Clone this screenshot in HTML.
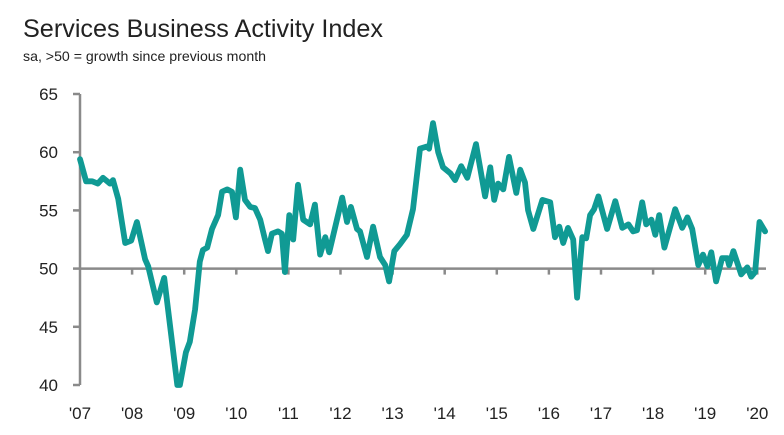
<!DOCTYPE html>
<html><head><meta charset="utf-8"><style>
html,body{margin:0;padding:0;background:#fff;}
svg{display:block;font-family:"Liberation Sans",sans-serif;}
</style></head><body>
<svg id="chart" width="784" height="435" viewBox="0 0 784 435" xmlns="http://www.w3.org/2000/svg">
<text x="23" y="37" font-size="25" fill="#222" textLength="360" lengthAdjust="spacingAndGlyphs">Services Business Activity Index</text>
<text x="23" y="61" font-size="14" fill="#222" textLength="243" lengthAdjust="spacingAndGlyphs">sa, &gt;50 = growth since previous month</text>
<g id="axes"></g>
<g id="series"></g>
</svg>
<script>
const yTicks = [40, 45, 50, 55, 60, 65];
const yearLabels = ["'07","'08","'09","'10","'11","'12","'13","'14","'15","'16","'17","'18","'19","'20"];
const months = [0,1.4,2.8,4.1,5.3,6.9,7.6,8.8,10.4,11.8,13.1,15,15.7,17.7,19.4,22.4,23,24.4,25.3,26.5,27.6,28.3,29.3,30.4,31.8,32.7,33.9,35,35.9,36.9,38,39.2,40.3,41.5,42.6,43.3,44.2,45.6,46.5,47.2,48.2,49.1,50.2,51.4,53,54.1,55.3,56.5,57.4,60.4,61.5,62.4,63.8,64.5,66.1,67.5,69.1,70.3,71.2,72.4,73.7,75.3,76.7,78.3,80,80.4,81.3,82.5,83.6,85.3,86.4,87.8,89.2,91.2,93.3,94.5,95.4,96.3,97.5,98.8,100.5,101.4,102.5,103.2,104.4,106.5,108.3,109.4,110.4,111.3,112.4,113.6,114.5,115.7,116.6,117.5,118.4,119.4,121.4,123.3,124.9,126.3,127.4,128.3,129.5,130.4,131.6,132.5,133.4,134.6,137.1,138.7,139.9,141,142.4,143.5,144.5,145.4,146.5,147.9,149.1,149.5,150.5,152.3,153.7,154.6,155.5,156.5,157.8];
const values = [59.4,57.5,57.5,57.3,57.8,57.3,57.6,56.0,52.2,52.4,54.0,50.8,50.2,47.1,49.2,40.0,40.0,42.8,43.7,46.5,50.6,51.6,51.8,53.4,54.6,56.6,56.8,56.6,54.4,58.5,55.9,55.3,55.2,54.2,52.5,51.5,53.0,53.2,53.0,49.7,54.6,52.5,57.2,54.2,53.8,55.5,51.2,52.7,51.4,56.1,54.0,55.3,53.4,53.2,51.0,53.6,51.0,50.3,48.9,51.5,52.1,52.9,55.1,60.3,60.5,60.3,62.5,60.0,58.7,58.2,57.6,58.8,57.8,60.7,56.2,58.7,55.9,57.3,56.8,59.6,56.5,58.5,57.4,55.0,53.4,55.9,55.7,52.7,53.6,52.2,53.5,52.5,47.5,52.7,52.6,54.6,55.1,56.2,53.4,55.8,53.5,53.8,53.2,53.3,55.7,53.8,54.2,52.9,54.6,51.8,55.1,53.5,54.4,53.4,50.3,51.2,50.2,51.4,48.9,50.9,50.9,50.3,51.5,49.5,50.1,49.3,49.7,54.0,53.2];

const NS = "http://www.w3.org/2000/svg";
const X0 = 80, MONTH_PX = 52.1/12;
const Y_TOP = 94, Y_BOT = 385, VMIN = 40, VMAX = 65;
function xScale(m){ return X0 + m*MONTH_PX; }
function yScale(v){ return Y_BOT - (v - VMIN)/(VMAX - VMIN)*(Y_BOT - Y_TOP); }
function mk(tag, attrs, parent){ const e=document.createElementNS(NS,tag); for(const k in attrs) e.setAttribute(k,attrs[k]); parent.appendChild(e); return e; }

const axes = document.getElementById('axes');
const yAxis = mk('line',{x1:X0,y1:Y_TOP,x2:X0,y2:Y_BOT,stroke:'#8a8a8a','stroke-width':2.5},axes);


yTicks.forEach(v=>{
  const y=yScale(v);
  const t=mk('line',{x1:X0-7,y1:y,x2:X0,y2:y,stroke:'#8a8a8a','stroke-width':2.5},axes);
  
  
  const l=mk('text',{x:58,y:y+6,'font-size':17,fill:'#222','text-anchor':'end'},axes);
  l.textContent=v;
  
  
});
const y50=yScale(50);
const base=mk('line',{x1:X0,y1:y50,x2:766,y2:y50,stroke:'#8a8a8a','stroke-width':2.5},axes);


yearLabels.forEach((lab,i)=>{
  const x=xScale(i*12);
  if(i>0){
    const t=mk('line',{x1:x,y1:y50,x2:x,y2:y50+6,stroke:'#8a8a8a','stroke-width':2.5},axes);
    
    
  }
  const l=mk('text',{x:x,y:419,'font-size':17,fill:'#222','text-anchor':'middle'},axes);
  l.textContent=lab;
  
  
});

const series=document.getElementById('series');
let d='';
months.forEach((m,i)=>{ d += (i?'L':'M') + xScale(m).toFixed(1) + ' ' + yScale(values[i]).toFixed(1) + ' '; });
const path=mk('path',{d:d,fill:'none',stroke:'#109a94','stroke-width':5.8,'stroke-linejoin':'round','stroke-linecap':'round'},series);


</script>
</body></html>
